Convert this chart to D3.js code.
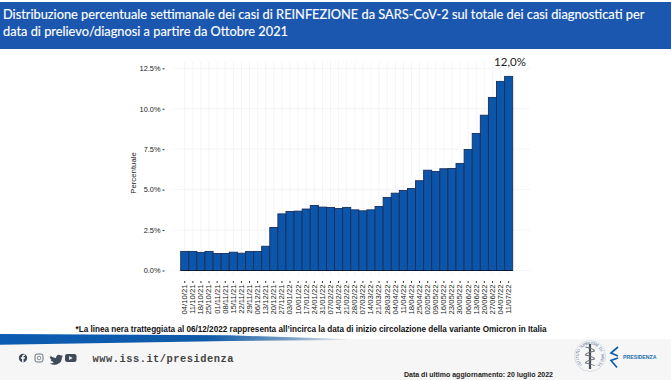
<!DOCTYPE html>
<html><head><meta charset="utf-8">
<script src="https://cdn.jsdelivr.net/npm/d3@7/dist/d3.min.js"></script>
<style>html,body{margin:0;padding:0;background:#fff}svg{display:block}</style></head>
<body><svg id="c" width="671" height="380"></svg>
<script>
const weeks=["04/10/21","11/10/21","18/10/21","25/10/21","01/11/21","08/11/21","15/11/21","22/11/21","29/11/21","06/12/21","13/12/21","20/12/21","27/12/21","03/01/22","10/01/22","17/01/22","24/01/22","31/01/22","07/02/22","14/02/22","21/02/22","28/02/22","07/03/22","14/03/22","21/03/22","28/03/22","04/04/22","11/04/22","18/04/22","25/04/22","02/05/22","09/05/22","16/05/22","23/05/22","30/05/22","06/06/22","13/06/22","20/06/22","27/06/22","04/07/22","11/07/22"];
const shares=[1.18,1.18,1.12,1.18,1.05,1.05,1.13,1.07,1.17,1.18,1.5,2.66,3.5,3.65,3.67,3.8,4.02,3.92,3.9,3.83,3.9,3.75,3.69,3.75,3.96,4.52,4.78,4.95,5.07,5.55,6.2,6.12,6.29,6.31,6.62,7.48,8.47,9.6,10.7,11.69,12.0];
const yTicks=[0,2.5,5,7.5,10,12.5];
const titleLines=["Distribuzione percentuale settimanale dei casi di REINFEZIONE da SARS-CoV-2 sul totale dei casi diagnosticati per","data di prelievo/diagnosi a partire da Ottobre 2021"];
const peakLabel="12,0%";
const note="*La linea nera tratteggiata al 06/12/2022 rappresenta all’incirca la data di inizio circolazione della variante Omicron in Italia";
const site="www.iss.it/presidenza";
const updated="Data di ultimo aggiornamento: 20 luglio 2022";
const yTitle="Percentuale";
const logoRing="ISTITUTO SUPERIORE DI SANITÀ";

const svg=d3.select("#c");
const defs=svg.append("defs");
const g1=defs.append("linearGradient").attr("id","band").attr("gradientUnits","userSpaceOnUse").attr("x1",0).attr("x2",346).attr("y1",0).attr("y2",0);
g1.append("stop").attr("offset","0").attr("stop-color","#0b5cb2");
g1.append("stop").attr("offset","0.6").attr("stop-color","#0f5aa8");
g1.append("stop").attr("offset","0.85").attr("stop-color","#7fa3c6");
g1.append("stop").attr("offset","1").attr("stop-color","#eeeeee");

// header
svg.append("rect").attr("x",0).attr("y",2).attr("width",671).attr("height",47).attr("fill","#1b57ae");
svg.selectAll("text.title").data(titleLines).join("text").attr("class","title")
 .attr("x",3).attr("y",(d,i)=>19+i*17).attr("fill","#fff")
 .attr("font-family","Lato, 'Open Sans', sans-serif").attr("font-size",12.8).attr("stroke","#fff").attr("stroke-width",.15).text(d=>d);

// footer
svg.append("rect").attr("x",0).attr("y",339).attr("width",671).attr("height",41).attr("fill","#f6f6f6");
svg.append("path").attr("d","M0 334L230 335.3L346 339L346 340L230 341L0 344.7Z").attr("fill","url(#band)");

// chart
const x=d3.scaleBand().domain(weeks).range([180.7,512.7]).padding(0);
const y=d3.scaleLinear().domain([0,12.5]).range([270.5,68.3]);
const grid=svg.append("g");
grid.selectAll("line.h").data(yTicks).join("line").attr("x1",173).attr("x2",530)
 .attr("y1",d=>y(d)).attr("y2",d=>y(d)).attr("stroke","#f0f0f3").attr("stroke-width",.7);
grid.selectAll("line.v").data(weeks).join("line").attr("y1",y(12.9)).attr("y2",y(-.3))
 .attr("x1",d=>x(d)+x.bandwidth()/2).attr("x2",d=>x(d)+x.bandwidth()/2).attr("stroke","#f0f0f3").attr("stroke-width",.7);

svg.selectAll("rect.bar").data(weeks).join("rect").attr("class","bar")
 .attr("x",d=>x(d)).attr("width",x.bandwidth())
 .attr("y",(d,i)=>y(shares[i])).attr("height",(d,i)=>y(0)-y(shares[i]))
 .attr("fill","#0b56ab").attr("stroke","#172f5c").attr("stroke-width",.9);
svg.append("line").attr("x1",x.range()[0]).attr("x2",x.range()[1]).attr("y1",y(0)).attr("y2",y(0)).attr("stroke","#0a1a33").attr("stroke-width",1);

const ya=svg.append("g").attr("transform","translate(164.5,0)").call(d3.axisLeft(y).tickValues(yTicks).tickSize(2).tickPadding(2).tickFormat(d=>d.toFixed(1)+"%"));
ya.select(".domain").remove();
ya.selectAll("line").attr("stroke","#333");
ya.selectAll("text").attr("font-family","'Liberation Sans',Arial,sans-serif").attr("font-size",7.4).attr("fill","#222");
const xa=svg.append("g").attr("transform","translate(0,281)").call(d3.axisBottom(x).tickSize(2).tickPadding(1.5));
xa.select(".domain").remove();
xa.selectAll("line").attr("stroke","#333");
xa.selectAll("text").attr("font-family","'Liberation Sans',Arial,sans-serif").attr("font-size",7.7).attr("fill","#222")
 .attr("text-anchor","end").attr("dx","-3.5").attr("dy","-3.2").attr("transform","rotate(-90)").attr("x",0).attr("y",0)
 .attr("dominant-baseline","hanging");
svg.append("text").attr("transform","translate(136,173) rotate(-90)").attr("text-anchor","middle")
 .attr("font-family","'Liberation Sans',Arial,sans-serif").attr("font-size",7.8).attr("fill","#222").text(yTitle);
svg.append("text").attr("x",510).attr("y",66).attr("text-anchor","middle")
 .attr("font-family","Lato,'Open Sans',sans-serif").attr("font-size",11.5).attr("fill","#222").text(peakLabel);

// note and footer text
svg.append("text").attr("x",75.5).attr("y",332).attr("textLength",471).attr("lengthAdjust","spacingAndGlyphs")
 .attr("font-family","'Liberation Sans',Arial,sans-serif").attr("font-weight","bold").attr("font-size",8.6).attr("fill","#111").text(note);
svg.append("text").attr("x",92.5).attr("y",361.6).attr("font-family","'Liberation Mono',monospace").attr("font-weight","bold")
 .attr("font-size",10.4).attr("letter-spacing",.5).attr("fill","#444").text(site);
svg.append("text").attr("x",404).attr("y",377).attr("font-family","'Liberation Sans',Arial,sans-serif").attr("font-weight","bold")
 .attr("font-size",7).attr("fill","#222").text(updated);

// social icons
const ic=svg.append("g").attr("fill","#3f4a5a");
ic.append("circle").attr("cx",23).attr("cy",358).attr("r",4.2);
ic.append("path").attr("d","M23.6 362v-3.3h1.2l.2-1.4h-1.4v-.9q0-.7.7-.7h.8v-1.2q-2.8-.5-3 1.7v1.1h-1.2v1.4h1.2v3.3z").attr("fill","#f6f6f6");
ic.append("rect").attr("x",35).attr("y",354).attr("width",8).attr("height",8).attr("rx",2).attr("fill","none").attr("stroke","#5a6472").attr("stroke-width",.9);
ic.append("circle").attr("cx",39).attr("cy",358).attr("r",1.8).attr("fill","none").attr("stroke","#5a6472").attr("stroke-width",.7);
ic.append("path").attr("d","M50 355.5q3 2.6 6 2.4q.2-3 2.8-3.2q1.4 0 2.2 1l1.8-.6l-1 1.6l1.4-.3l-1.4 1.4q.2 5-5 6.6q-3.6 1-7-1q2.6 0 4-1.2q-3-1-3.4-2.4l1.4-.1q-2-1-2.2-3l1.4.4q-1.6-1.4-.6-3.2z");
ic.append("rect").attr("x",65).attr("y",354).attr("width",11.5).attr("height",8).attr("rx",2.2);
ic.append("path").attr("d","M69.2 356l3.4 2-3.4 2z").attr("fill","#f6f6f6");

// logo
const logo=svg.append("g");
const ringAngle=d3.scaleLinear().domain([0,logoRing.length-1]).range([-135,135]);
logo.selectAll("text.ring").data(logoRing.split("")).join("text").attr("class","ring")
 .attr("transform",(d,i)=>`translate(590,356) rotate(${ringAngle(i)}) translate(0,-11.5)`)
 .attr("text-anchor","middle").attr("font-family","'Liberation Sans',Arial,sans-serif").attr("font-size",3.9).attr("fill","#5f7896").text(d=>d);
logo.append("circle").attr("cx",590).attr("cy",356).attr("r",15.5).attr("fill","none").attr("stroke","#b9c4d2").attr("stroke-width",.5);
logo.append("line").attr("x1",590).attr("x2",590).attr("y1",344).attr("y2",369).attr("stroke","#4a4f57").attr("stroke-width",2.2);
logo.append("path").attr("d","M585.5 347q9 2 9 4q-9 2-9 4q9 2 9 4q-9 2-9 4q9 2 9 3").attr("fill","none").attr("stroke","#6b7078").attr("stroke-width",1.1);
logo.append("path").attr("d","M618 347l-7 6 7 3M618 358l-7 2.5 6 7").attr("fill","none").attr("stroke","#0f5ea8").attr("stroke-width",1.7);
logo.append("text").attr("x",623).attr("y",359).attr("font-family","'Liberation Sans',Arial,sans-serif").attr("font-weight","bold").attr("font-size",5.2).attr("fill","#1a6db0").text("PRESIDENZA");
</script></body></html>
